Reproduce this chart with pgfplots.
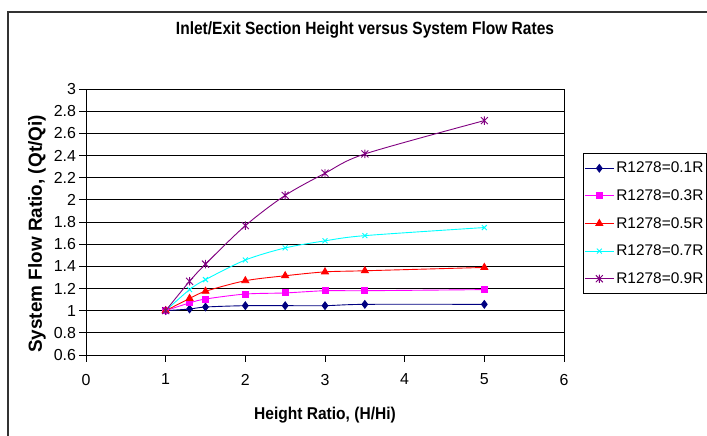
\documentclass[border=0pt]{standalone}
\usepackage{pgfplots}
\pgfplotsset{compat=1.18}
\usepackage{fontspec}
\setmainfont{Liberation Sans}
\definecolor{sNavy}{RGB}{0,0,128}
\definecolor{sMag}{RGB}{255,0,255}
\definecolor{sRed}{RGB}{255,0,0}
\definecolor{sCyan}{RGB}{0,255,255}
\definecolor{sPurp}{RGB}{128,0,128}
\pgfdeclareplotmark{xstar}{%
  \pgfpathmoveto{\pgfqpoint{-\pgfplotmarksize}{-\pgfplotmarksize}}%
  \pgfpathlineto{\pgfqpoint{\pgfplotmarksize}{\pgfplotmarksize}}%
  \pgfpathmoveto{\pgfqpoint{-\pgfplotmarksize}{\pgfplotmarksize}}%
  \pgfpathlineto{\pgfqpoint{\pgfplotmarksize}{-\pgfplotmarksize}}%
  \pgfpathmoveto{\pgfqpoint{0pt}{-1.2\pgfplotmarksize}}%
  \pgfpathlineto{\pgfqpoint{0pt}{1.2\pgfplotmarksize}}%
  \pgfusepathqstroke}
\begin{document}
\begin{tikzpicture}
\useasboundingbox (0,0) rectangle (707bp,436bp);
\draw[line width=1.2bp, black!80] (8bp,-20bp) -- (8bp,424bp) -- (740bp,424bp);
\begin{axis}[
  at={(86bp,81bp)}, anchor=south west,
  scale only axis, width=478bp, height=266bp,
  xmin=0, xmax=6, ymin=0.6, ymax=3,
  xtick={0,1,2,3,4,5,6},
  ytick={0.6,0.8,1,1.2,1.4,1.6,1.8,2,2.2,2.4,2.6,2.8,3},
  yticklabels={0.6,0.8,1,1.2,1.4,1.6,1.8,2,2.2,2.4,2.6,2.8,3},
  xticklabels={0,1,2,3,4,5,6},
  tick align=outside, major tick length=6.5bp,
  xtick pos=bottom, ytick pos=left,
  tick style={black, line width=0.8bp},
  axis line style={black, line width=0.9bp},
  ymajorgrids, major grid style={black, line width=0.8bp},
  ticklabel style={font=\fontsize{16}{19}\selectfont},
  xticklabel shift=9bp,
  /pgf/number format/assume math mode=true,
  title={\scalebox{1}[1.14]{\resizebox{378bp}{!}{\bfseries Inlet/Exit Section Height versus System Flow Rates}}},
  title style={at={(axis description cs:0.5837,1.199)}, anchor=center},
  xlabel={\scalebox{1}[1.1]{Height Ratio, (H/Hi)}},
  xlabel style={font=\bfseries\fontsize{15.6}{18}\selectfont, at={(axis description cs:0.5,-0.2256)}, anchor=center},
  ylabel={System Flow Ratio, (Qt/Qi)},
  ylabel style={font=\bfseries\fontsize{19}{22}\selectfont, at={(axis description cs:-0.1025,0.455)}, anchor=center, rotate=0},
  legend style={at={(axis description cs:1.0397,0.759)}, anchor=north west,
    draw=black, line width=0.8bp, font=\fontsize{15.5}{18}\selectfont,
    inner xsep=1bp, inner ysep=1bp, row sep=0pt,
    nodes={inner xsep=2bp, inner ysep=0pt, minimum height=27.6bp}},
  legend cell align=left,
  legend image code/.code={\draw[mark repeat=2,mark phase=2,#1] plot coordinates {(0bp,0bp) (14.5bp,0bp) (29bp,0bp)};},
  every axis plot/.append style={line width=0.9bp, smooth},
]
\addplot[sNavy, mark=diamond*, mark size=3.8bp, mark options={solid}] coordinates {
(1,1) (1.3,1.015) (1.5,1.033) (2,1.045) (2.5,1.045) (3,1.045) (3.5,1.057) (5,1.057)};
\addlegendentry{R1278=0.1R}
\addplot[sMag, mark=square*, mark size=3bp] coordinates {
(1,1) (1.3,1.07) (1.5,1.105) (2,1.15) (2.5,1.16) (3,1.18) (3.5,1.18) (5,1.19)};
\addlegendentry{R1278=0.3R}
\addplot[sRed, mark=triangle*, mark size=4bp] coordinates {
(1,1) (1.3,1.11) (1.5,1.175) (2,1.27) (2.5,1.315) (3,1.35) (3.5,1.36) (5,1.39)};
\addlegendentry{R1278=0.5R}
\addplot[sCyan, mark=x, mark size=3.5bp] coordinates {
(1,1) (1.3,1.19) (1.5,1.28) (2,1.457) (2.5,1.566) (3,1.63) (3.5,1.677) (5,1.75)};
\addlegendentry{R1278=0.7R}
\addplot[sPurp, mark=xstar, mark size=3.5bp] coordinates {
(1,1) (1.3,1.265) (1.5,1.42) (2,1.767) (2.5,2.04) (3,2.24) (3.5,2.414) (5,2.715)};
\addlegendentry{R1278=0.9R}
\end{axis}
\end{tikzpicture}
\end{document}
